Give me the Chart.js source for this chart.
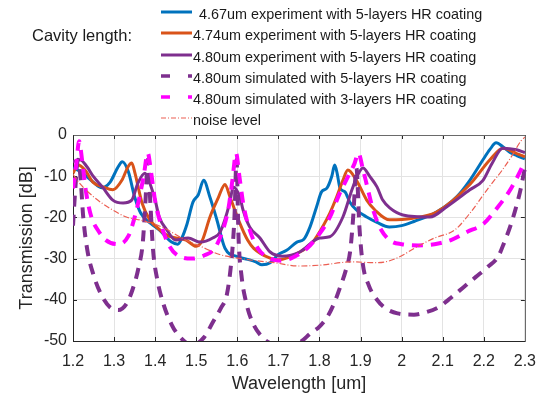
<!DOCTYPE html>
<html>
<head>
<meta charset="utf-8">
<script src="https://cdn.jsdelivr.net/npm/chart.js@4.4.1/dist/chart.umd.min.js"></script>
<style>
  body { margin: 0; background: #fff; }
  #wrap { position: relative; width: 547px; height: 396px; font-family: 'Liberation Sans', Arial, sans-serif; color: #1a1a1a; }
  #chart { position: absolute; left: 0; top: 0; }
  .row { position: absolute; left: 161px; height: 20px; line-height: 20px; font-size: 14.4px; white-space: nowrap; }
  .row svg { position: absolute; left: 0; top: 5px; }
  .row span { position: absolute; top: 0; }
  #cavity { position: absolute; left: 32px; top: 25px; height: 20px; line-height: 20px; font-size: 16.5px; }
</style>
</head>
<body>
<div id="wrap">
  <canvas id="chart" width="547" height="396"></canvas>
  <div id="cavity">Cavity length:</div>
  <div id="legend"></div>
</div>
<script>
// 4.67um experiment, 5-layers HR
const blueX = [1.20, 1.22, 1.25, 1.27, 1.29, 1.31, 1.32, 1.335, 1.35, 1.365, 1.39, 1.41, 1.44, 1.455, 1.465, 1.477, 1.492, 1.505, 1.518, 1.533, 1.55, 1.57, 1.60, 1.63, 1.645, 1.66, 1.68, 1.70, 1.72, 1.745, 1.762, 1.777, 1.793, 1.805, 1.818, 1.83, 1.837, 1.843, 1.85, 1.862, 1.874, 1.89, 1.915, 1.94, 1.97, 2.00, 2.03, 2.085, 2.134, 2.166, 2.198, 2.215, 2.23, 2.247, 2.265, 2.28, 2.30];
const blueY = [-8, -9, -11.5, -12.8, -11.5, -7.7, -6.5, -9, -15, -19, -21.5, -23, -26, -26.5, -25, -21.8, -16.3, -14.5, -11, -15, -20.5, -27.5, -29.5, -30.3, -30.8, -31.5, -31, -29, -28, -26, -25.3, -22.3, -17.4, -13.8, -12.9, -10, -7.3, -9.3, -12.9, -13.8, -16.3, -18.2, -19.9, -21.2, -22.3, -22, -21, -18.7, -15, -11, -6, -3.5, -1.9, -2.9, -4.3, -5, -5.8];

// 4.74um experiment, 5-layers HR
const orangeX = [1.20, 1.212, 1.229, 1.249, 1.273, 1.297, 1.319, 1.334, 1.343, 1.351, 1.368, 1.387, 1.40, 1.428, 1.45, 1.475, 1.50, 1.515, 1.533, 1.553, 1.57, 1.582, 1.606, 1.625, 1.64, 1.68, 1.70, 1.752, 1.784, 1.793, 1.825, 1.842, 1.857, 1.869, 1.89, 1.915, 1.935, 1.971, 2.027, 2.085, 2.166, 2.215, 2.247, 2.28, 2.30];
const orangeY = [-9.3, -7.3, -8.5, -11.5, -12.6, -13.3, -11, -7.7, -6.8, -9.3, -16.5, -20.6, -22, -24.3, -25, -25.5, -27, -25.5, -20, -15.4, -12, -15, -21.4, -25.5, -27.5, -29.9, -30.3, -28.4, -26, -24.7, -19, -15, -11, -8.5, -11, -15.8, -18.2, -20.6, -20.2, -18.7, -12, -6, -3.2, -4.5, -5.3];

// 4.80um experiment, 5-layers HR
const purpleX = [1.20, 1.217, 1.234, 1.249, 1.273, 1.297, 1.322, 1.343, 1.358, 1.375, 1.387, 1.40, 1.41, 1.428, 1.45, 1.48, 1.51, 1.54, 1.558, 1.582, 1.59, 1.606, 1.614, 1.63, 1.655, 1.68, 1.71, 1.752, 1.80, 1.825, 1.857, 1.879, 1.893, 1.906, 1.922, 1.94, 1.954, 1.971, 2.003, 2.069, 2.11, 2.166, 2.198, 2.22, 2.246, 2.28, 2.30];
const purpleY = [-6.5, -6, -7.7, -10, -12.8, -15.8, -16.5, -15.8, -11.7, -9.3, -11.7, -15.8, -19.9, -23, -25.5, -25, -26, -25, -23.6, -16.3, -12.6, -15, -18.2, -22.3, -25, -28.4, -29.4, -28.4, -25, -24.7, -19.9, -13.3, -9.7, -8, -10, -12.6, -15.8, -17.7, -19.4, -19.9, -17.4, -13.3, -11, -6.9, -3.2, -3.6, -4.3];

// 4.80um simulated, 5-layers HR
const sim5X = [1.20, 1.205, 1.212, 1.218, 1.225, 1.235, 1.25, 1.27, 1.29, 1.31, 1.33, 1.345, 1.36, 1.37, 1.377, 1.382, 1.388, 1.395, 1.405, 1.42, 1.44, 1.46, 1.49, 1.52, 1.54, 1.56, 1.575, 1.587, 1.593, 1.598, 1.603, 1.61, 1.62, 1.635, 1.66, 1.69, 1.72, 1.75, 1.78, 1.80, 1.82, 1.835, 1.85, 1.865, 1.875, 1.882, 1.89, 1.897, 1.905, 1.92, 1.94, 1.96, 1.99, 2.03, 2.06, 2.09, 2.12, 2.15, 2.18, 2.21, 2.235, 2.25, 2.265, 2.28, 2.29, 2.30];
const sim5Y = [-22, -14, -6, -10, -20, -28, -34, -39, -41.8, -42.5, -41, -37.5, -32, -26, -15, -6, -16, -28, -35, -41, -46, -49, -51, -49, -45.5, -42, -38.5, -29, -20, -6, -25, -34, -40, -45, -49, -51, -51.5, -50.5, -48, -46.5, -44, -41, -37, -32.5, -28, -20, -8, -22, -31, -36.5, -40, -42, -43.3, -43.6, -43, -41.8, -39.5, -37, -34.5, -32, -29.5, -26, -22, -17, -13, -8];

// 4.80um simulated, 3-layers HR
const sim3X = [1.20, 1.208, 1.215, 1.222, 1.232, 1.245, 1.26, 1.28, 1.31, 1.335, 1.35, 1.362, 1.372, 1.382, 1.39, 1.40, 1.415, 1.435, 1.46, 1.49, 1.52, 1.545, 1.565, 1.578, 1.588, 1.597, 1.605, 1.615, 1.63, 1.65, 1.68, 1.71, 1.74, 1.77, 1.80, 1.825, 1.85, 1.87, 1.885, 1.895, 1.905, 1.915, 1.93, 1.95, 1.975, 2.00, 2.04, 2.08, 2.12, 2.16, 2.20, 2.23, 2.26, 2.28, 2.30];
const sim3Y = [-13, -7, -1.5, -6, -14, -20, -23, -25.5, -26.5, -24.5, -20, -15, -10, -4.4, -9, -16, -22, -27, -29.5, -30, -29.2, -27.5, -23, -18, -11, -4.4, -10, -17, -23, -27.5, -30, -30.5, -29.5, -27.5, -24, -20, -14, -10, -7, -4.4, -8, -12, -18, -23, -25.8, -26.5, -26.8, -26.5, -25.5, -23.5, -21.5, -18, -14, -10.5, -6.5];

// noise level
const noiseX = [1.20, 1.21, 1.25, 1.29, 1.33, 1.37, 1.42, 1.47, 1.51, 1.557, 1.63, 1.69, 1.75, 1.80, 1.88, 1.935, 1.96, 1.99, 2.04, 2.08, 2.13, 2.17, 2.21, 2.245, 2.27, 2.29, 2.30];
const noiseY = [-9.5, -11, -15, -17.8, -19.9, -20.8, -22.5, -25.3, -27, -29, -30.3, -31, -31.8, -31.6, -30.8, -31, -30.8, -29.8, -27, -25, -23, -18.5, -13, -8.5, -4.8, -1.5, -0.5];

const xTickValues = [1.2, 1.3, 1.4, 1.5, 1.6, 1.7, 1.8, 1.9, 2.0, 2.1, 2.2, 2.3];
const xTickLabels = ['1.2', '1.3', '1.4', '1.5', '1.6', '1.7', '1.8', '1.9', '2', '2.1', '2.2', '2.3'];
const yTickValues = [-50, -40, -30, -20, -10, 0];

const pts = (xs, ys) => xs.map((x, i) => ({ x: x, y: ys[i] }));

Chart.defaults.font.family = "'Liberation Sans', Arial, sans-serif";
Chart.defaults.color = '#262626';

const series = [
  { label: '4.67um experiment with 5-layers HR coating', data: pts(blueX, blueY), borderColor: '#0072BD', borderWidth: 3, order: 6 },
  { label: '4.74um experiment with 5-layers HR coating', data: pts(orangeX, orangeY), borderColor: '#D95319', borderWidth: 3, order: 5 },
  { label: '4.80um experiment with 5-layers HR coating', data: pts(purpleX, purpleY), borderColor: '#7E2F8E', borderWidth: 3, order: 4 },
  { label: '4.80um simulated with 5-layers HR coating', data: pts(sim5X, sim5Y), borderColor: '#7E2F8E', borderWidth: 4, borderDash: [11, 8], order: 3 },
  { label: '4.80um simulated with 3-layers HR coating', data: pts(sim3X, sim3Y), borderColor: '#FF00FF', borderWidth: 4, borderDash: [11, 8], order: 2 },
  { label: 'noise level', data: pts(noiseX, noiseY), borderColor: '#EC5E52', borderWidth: 1.2, borderDash: [6, 2, 1, 2], order: 1 }
];
series.forEach(s => {
  s.pointRadius = 0;
  s.fill = false;
  s.cubicInterpolationMode = 'monotone';
  s.clip = { left: 0, top: 6, right: 3, bottom: 0 };
});

// MATLAB style box with inward ticks, drawn under the lines
const frame = {
  id: 'frame',
  beforeDatasetsDraw(chart) {
    const { ctx, chartArea: a, scales: { x, y } } = chart;
    ctx.save();
    ctx.lineWidth = 1;
    ctx.strokeStyle = '#262626';
    ctx.beginPath();
    x.ticks.forEach(t => {
      const px = Math.round(x.getPixelForValue(t.value)) + 0.5;
      ctx.moveTo(px, a.bottom); ctx.lineTo(px, a.bottom - 4);
      ctx.moveTo(px, a.top); ctx.lineTo(px, a.top + 4);
    });
    y.ticks.forEach(t => {
      const py = Math.round(y.getPixelForValue(t.value)) + 0.5;
      ctx.moveTo(a.left, py); ctx.lineTo(a.left + 4, py);
      ctx.moveTo(a.right, py); ctx.lineTo(a.right - 4, py);
    });
    ctx.stroke();
    const l = Math.round(a.left) + 0.5, r = Math.round(a.right) + 0.5;
    const t = Math.round(a.top) + 0.5, b = Math.round(a.bottom) + 0.5;
    ctx.strokeStyle = '#6a6a6a';
    ctx.beginPath();
    ctx.moveTo(l, t); ctx.lineTo(r, t); ctx.lineTo(r, b);
    ctx.stroke();
    ctx.strokeStyle = '#262626';
    ctx.beginPath();
    ctx.moveTo(l, t); ctx.lineTo(l, b); ctx.lineTo(r, b);
    ctx.stroke();
    ctx.restore();
  }
};

new Chart(document.getElementById('chart'), {
  type: 'line',
  data: { datasets: series },
  options: {
    responsive: false,
    animation: false,
    layout: { padding: { left: 0, top: 135, right: 22, bottom: 0 } },
    plugins: { legend: { display: false }, tooltip: { enabled: false } },
    scales: {
      x: {
        type: 'linear',
        min: 1.2,
        max: 2.3,
        afterBuildTicks: s => { s.ticks = xTickValues.map(v => ({ value: v })); },
        afterFit: s => { s.height = 55; },
        ticks: { callback: (v, i) => xTickLabels[i], font: { size: 16 }, padding: 11, maxRotation: 0, autoSkip: false },
        grid: { color: '#e3e3e3', drawTicks: false },
        border: { display: false },
        title: { display: true, text: 'Wavelength [um]', font: { size: 18 }, padding: { top: 0, bottom: 1 } }
      },
      y: {
        min: -50,
        max: 0,
        afterBuildTicks: s => { s.ticks = yTickValues.map(v => ({ value: v })); },
        afterFit: s => { s.width = 73; },
        ticks: { font: { size: 16 }, padding: 6 },
        grid: { color: '#e3e3e3', drawTicks: false },
        border: { display: false },
        title: { display: true, text: 'Transmission [dB]', font: { size: 18 }, padding: { top: 16, bottom: 0 } }
      }
    }
  },
  plugins: [frame]
});

// legend built from the datasets
const legendTops = [14.3, 35.3, 56.7, 78.3, 99.3, 120];
const legend = document.getElementById('legend');
series.forEach((s, i) => {
  const row = document.createElement('div');
  row.className = 'row';
  row.style.top = (legendTops[i] - 10) + 'px';
  let dash = '';
  if (s.borderDash && s.borderWidth > 2) dash = 'stroke-dasharray="9 18"';
  if (s.borderWidth < 2) dash = 'stroke-dasharray="5 2 1 2"';
  const w = s.borderWidth === 4 ? 3.5 : s.borderWidth;
  row.innerHTML = '<svg width="32" height="10"><line x1="0" y1="3" x2="31" y2="3" stroke="' + s.borderColor +
    '" stroke-width="' + w + '" ' + dash + '/></svg><span style="left:' + (i === 0 ? 38 : 32) + 'px">' + s.label + '</span>';
  legend.appendChild(row);
});
</script>
</body>
</html>
